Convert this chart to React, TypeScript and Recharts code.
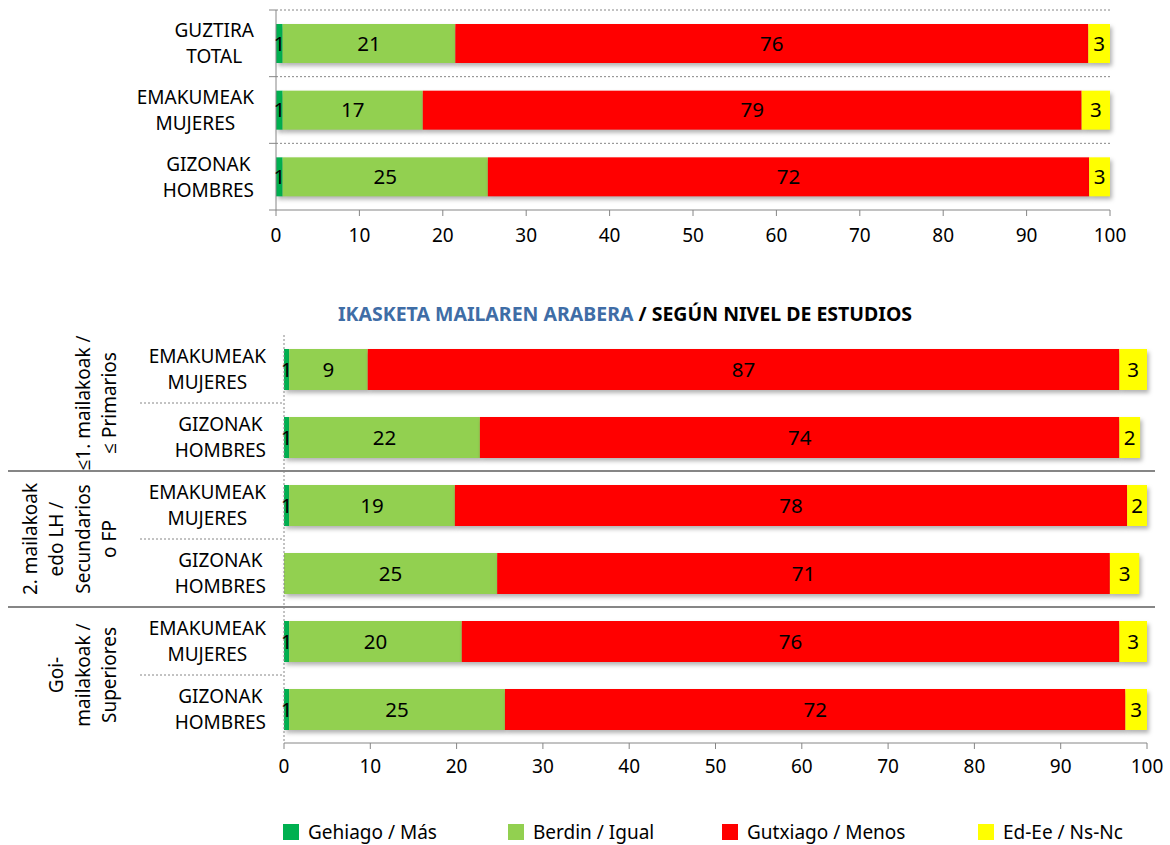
import React from 'react';
import { BarChart, Bar, XAxis, YAxis, CartesianGrid, LabelList } from 'recharts';

const FONT = '"Noto Sans", "Open Sans", sans-serif';

// series colours
const COLORS = ['#00B050', '#92D050', '#FF0000', '#FFFF00'];
const SERIES = ['Gehiago / Más', 'Berdin / Igual', 'Gutxiago / Menos', 'Ed-Ee / Ns-Nc'];
const KEYS = ['mas', 'igual', 'menos', 'nsnc'];

// top chart (total + by sex)
const topIds = ['total', 'emak', 'giz'];
const topLabels = ['GUZTIRA|TOTAL', 'EMAKUMEAK|MUJERES', 'GIZONAK|HOMBRES'];
const topMas = [0.8, 0.8, 0.8];
const topIgual = [20.7, 16.8, 24.6];
const topMenos = [75.9, 79.0, 72.1];
const topNsNc = [2.6, 3.4, 2.5];

// bottom chart (by level of studies)
const bottomIds = ['p-e', 'p-g', 's-e', 's-g', 'u-e', 'u-g'];
const bottomLabels = [
  'EMAKUMEAK|MUJERES', 'GIZONAK|HOMBRES',
  'EMAKUMEAK|MUJERES', 'GIZONAK|HOMBRES',
  'EMAKUMEAK|MUJERES', 'GIZONAK|HOMBRES',
];
const bottomMas = [0.6, 0.6, 0.6, 0, 0.6, 0.6];
const bottomIgual = [9.1, 22.1, 19.2, 24.7, 20.0, 25.0];
const bottomMenos = [87.1, 74.1, 77.9, 71.0, 76.2, 71.9];
const bottomNsNc = [3.2, 2.4, 2.3, 3.4, 3.2, 2.5];
const groupLabels = [
  ['≤1. mailakoak /', '≤ Primarios'],
  ['2. mailakoak', 'edo LH /', 'Secundarios', 'o FP'],
  ['Goi-', 'mailakoak /', 'Superiores'],
];

const xTicks = [0, 10, 20, 30, 40, 50, 60, 70, 80, 90, 100];

const topData = topIds.map((id, i) => ({
  id, mas: topMas[i], igual: topIgual[i], menos: topMenos[i], nsnc: topNsNc[i],
}));
const bottomData = bottomIds.map((id, i) => ({
  id, mas: bottomMas[i], igual: bottomIgual[i], menos: bottomMenos[i], nsnc: bottomNsNc[i],
}));

const AXIS = '#868686';
const LABEL_SIZE = 19;
const VALUE_SIZE = 20.5;

let ctx: CanvasRenderingContext2D | null = null;
const measure = (s: string) => {
  if (!ctx) ctx = document.createElement('canvas').getContext('2d');
  if (!ctx) return s.length * 11;
  ctx.font = `${LABEL_SIZE}px ${FONT}`;
  return ctx.measureText(s).width;
};

const TOP_PLOT_H = 200;
const BOTTOM_PLOT_H = 408;

const TwoLines = ({ y, text, right }: { y: number; text: string; right: number }) => {
  const [a, b] = text.split('|');
  const cx = right - Math.max(measure(a), measure(b)) / 2;
  return (
    <g fontFamily={FONT} fontSize={LABEL_SIZE} fill="#000">
      <text x={cx} y={y - 13} textAnchor="middle" dominantBaseline="central">{a}</text>
      <text x={cx} y={y + 13} textAnchor="middle" dominantBaseline="central">{b}</text>
    </g>
  );
};

const TopTick = (props: any) => {
  const { y, payload } = props;
  const i = topIds.indexOf(payload.value);
  const band = TOP_PLOT_H / topIds.length;
  const top = y - band / 2;
  return (
    <g>
      <TwoLines y={y} text={topLabels[i]} right={254} />
      <line x1={269} x2={276} y1={top} y2={top} stroke={AXIS} />
      {i === topIds.length - 1 && <line x1={269} x2={276} y1={top + band} y2={top + band} stroke={AXIS} />}
    </g>
  );
};

const BottomTick = (props: any) => {
  const { y, payload } = props;
  const i = bottomIds.indexOf(payload.value);
  const band = BOTTOM_PLOT_H / bottomIds.length;
  const top = y - band / 2;
  const first = i % 2 === 0;
  const lines = first ? groupLabels[i / 2] : [];
  const gy = top + band;
  return (
    <g>
      <TwoLines y={y} text={bottomLabels[i]} right={266} />
      {!first && (
        <line x1={140} x2={284} y1={top} y2={top} stroke={AXIS} strokeDasharray="2 2" />
      )}
      {first && i > 0 && (
        <line x1={8} x2={1155} y1={top} y2={top} stroke={AXIS} strokeWidth={2} />
      )}
      {lines.map((t, k) => {
        const x = 109 - (lines.length - 1 - k) * 26.5;
        return (
          <text key={k} transform={`translate(${x},${gy}) rotate(-90)`} textAnchor="middle"
            dominantBaseline="central" fontFamily={FONT} fontSize={LABEL_SIZE} fill="#000">{t}</text>
        );
      })}
    </g>
  );
};

const ShadowRect = (p: any) =>
  p.width > 0 ? (
    <rect x={p.x} y={p.y} width={p.width} height={p.height} fill={p.fill}
      style={{ filter: 'drop-shadow(2px 3px 2px rgba(0,0,0,0.3))' }} />
  ) : null;

const fmt = (v: any) => (Number(v) >= 0.5 ? String(Math.round(Number(v))) : '');

const renderBars = (size: number) =>
  KEYS.map((k, i) => (
    <Bar key={k} dataKey={k} stackId="a" fill={COLORS[i]} barSize={size}
      shape={ShadowRect} isAnimationActive={false}>
      <LabelList dataKey={k} position="center" formatter={fmt}
        style={{ fontFamily: FONT, fontSize: VALUE_SIZE, fill: '#000' }} />
    </Bar>
  ));

const tickStyle = { fontFamily: FONT, fontSize: LABEL_SIZE, fill: '#000' };

export default function App() {
  return (
    <div style={{ position: 'absolute', left: 0, top: 0, width: 1170, height: 845, background: '#fff', fontFamily: FONT }}>
      <div style={{ position: 'absolute', left: 0, top: 0 }}>
        <BarChart width={1170} height={255} data={topData} layout="vertical"
          margin={{ top: 10, right: 60, bottom: 0, left: 0 }}>
          <CartesianGrid vertical={false} stroke={AXIS} strokeDasharray="2 2"
            horizontalCoordinatesGenerator={({ offset }: any) =>
              topIds.map((_, i) => offset.top + (i * offset.height) / topIds.length)} />
          <XAxis type="number" domain={[0, 100]} ticks={xTicks} height={45}
            axisLine={{ stroke: AXIS }} tickLine={{ stroke: AXIS }} tickSize={6} tickMargin={13}
            tick={tickStyle} interval={0} />
          <YAxis type="category" dataKey="id" width={276} axisLine={{ stroke: AXIS }}
            tickLine={false} tick={<TopTick />} interval={0} />
          {renderBars(39)}
        </BarChart>
      </div>

      <div style={{ position: 'absolute', left: 0, top: 299, width: 1250, textAlign: 'center',
        fontWeight: 700, fontSize: 19.5, lineHeight: '30px' }}>
        <span style={{ color: '#3F6DA6' }}>IKASKETA MAILAREN ARABERA</span>
        <span style={{ color: '#000' }}> / SEGÚN NIVEL DE ESTUDIOS</span>
      </div>

      <div style={{ position: 'absolute', left: 0, top: 325 }}>
        <BarChart width={1170} height={463} data={bottomData} layout="vertical"
          margin={{ top: 10, right: 23, bottom: 0, left: 0 }}>
          <XAxis type="number" domain={[0, 100]} ticks={xTicks} height={45}
            axisLine={{ stroke: AXIS }} tickLine={{ stroke: AXIS }} tickSize={6} tickMargin={11}
            tick={tickStyle} interval={0} />
          <YAxis type="category" dataKey="id" width={284}
            axisLine={{ stroke: AXIS, strokeDasharray: '2 2' }}
            tickLine={false} tick={<BottomTick />} interval={0} />
          {renderBars(41)}
        </BarChart>
      </div>

      <div style={{ position: 'absolute', left: 283, top: 820, display: 'flex', alignItems: 'center',
        fontSize: LABEL_SIZE, color: '#000', height: 24 }}>
        {SERIES.map((s, i) => (
          <div key={s} style={{ display: 'flex', alignItems: 'center', width: [225, 214, 256, 200][i] }}>
            <span style={{ display: 'inline-block', width: 16, height: 16, background: COLORS[i], marginRight: 9 }} />
            <span>{s}</span>
          </div>
        ))}
      </div>
    </div>
  );
}
